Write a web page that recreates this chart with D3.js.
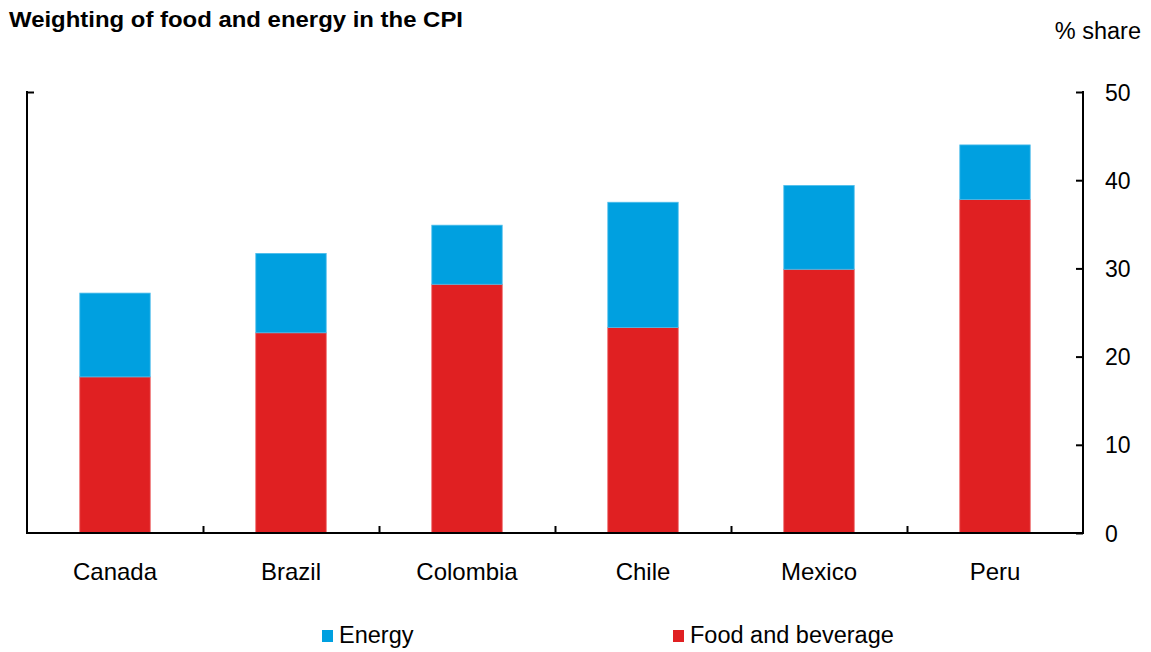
<!DOCTYPE html>
<html>
<head>
<meta charset="utf-8">
<script src="https://cdn.jsdelivr.net/npm/d3@7"></script>
<style>
  html, body { margin: 0; padding: 0; background: #fff; }
  text { font-family: "Liberation Sans", Arial, sans-serif; fill: #000; }
</style>
</head>
<body>
<svg id="chart" width="1151" height="652"></svg>
<script>
const categories = ["Canada", "Brazil", "Colombia", "Chile", "Mexico", "Peru"];
const foodValues = [17.7, 22.7, 28.2, 23.3, 29.9, 37.8];
const energyValues = [9.5, 9.0, 6.7, 14.2, 9.5, 6.2];
const seriesNames = ["Energy", "Food and beverage"];
const yTicks = [0, 10, 20, 30, 40, 50];

(function () {
const colors = { "Energy": "#00A0E0", "Food and beverage": "#E02022" };
const strokes = { "Energy": "#4DBDEB", "Food and beverage": "#EB5A5C" };

const svg = d3.select("#chart");
const pLeft = 27, pRight = 1083, pTop = 92, pBottom = 533;

const x = d3.scaleBand().domain(categories).range([pLeft, pRight])
  .paddingInner(0.6).paddingOuter(0.3);
const y = d3.scaleLinear().domain([0, 50]).range([pBottom, pTop]);

const rows = categories.map((c, i) => ({ cat: c, "Food and beverage": foodValues[i], "Energy": energyValues[i] }));
const stacked = d3.stack().keys(["Food and beverage", "Energy"])(rows);

// bars
svg.append("g").selectAll("g").data(stacked).join("g")
  .attr("fill", d => colors[d.key])
  .attr("stroke", d => strokes[d.key])
  .attr("stroke-width", 0.8)
  .selectAll("rect").data(d => d).join("rect")
  .attr("x", d => x(d.data.cat))
  .attr("width", x.bandwidth())
  .attr("y", d => y(d[1]))
  .attr("height", d => y(d[0]) - y(d[1]));

// right axis
const yAxis = d3.axisRight(y).tickValues(yTicks).tickSize(-7).tickPadding(0).tickFormat(d3.format("d"));
const gy = svg.append("g").attr("transform", `translate(${pRight},0)`).call(yAxis);
gy.select(".domain").remove();
gy.selectAll(".tick line").attr("stroke", "#000").attr("stroke-width", 2);
gy.selectAll(".tick text").attr("x", 22).attr("dy", "0.35em")
  .style("font-size", "23px").style("font-family", "Liberation Sans, Arial, sans-serif").attr("fill", "#000");
svg.append("line").attr("x1", pRight).attr("x2", pRight).attr("y1", y(50) - 1).attr("y2", y(0) + 1)
  .attr("stroke", "#000").attr("stroke-width", 2);

// left axis
const yAxisL = d3.axisLeft(y).tickValues([50]).tickSize(-7).tickFormat("");
const gl = svg.append("g").attr("transform", `translate(${pLeft},0)`).call(yAxisL);
gl.select(".domain").remove();
gl.selectAll(".tick line").attr("stroke", "#000").attr("stroke-width", 2);
svg.append("line").attr("x1", pLeft).attr("x2", pLeft).attr("y1", y(50) - 1).attr("y2", y(0) + 1)
  .attr("stroke", "#000").attr("stroke-width", 2);

// bottom axis
const boundaries = categories.slice(1).map(c => x(c) - x.step() * x.paddingInner() / 2);
const xAxis = d3.axisBottom(d3.scaleLinear().domain([pLeft, pRight]).range([pLeft, pRight]))
  .tickValues(boundaries).tickSize(-7).tickFormat("");
const gx = svg.append("g").attr("transform", `translate(0,${pBottom})`).call(xAxis);
gx.select(".domain").remove();
gx.selectAll(".tick line").attr("stroke", "#000").attr("stroke-width", 2);
svg.append("line").attr("x1", pLeft - 1).attr("x2", pRight + 1).attr("y1", pBottom).attr("y2", pBottom)
  .attr("stroke", "#000").attr("stroke-width", 2);

// category labels
svg.append("g").selectAll("text").data(categories).join("text")
  .attr("x", d => x(d) + x.bandwidth() / 2)
  .attr("y", 579.5)
  .attr("text-anchor", "middle")
  .style("font-size", "24px")
  .text(d => d);

// title
svg.append("text").attr("x", 9).attr("y", 27)
  .style("font-size", "22px").style("font-weight", "bold")
  .attr("textLength", 454).attr("lengthAdjust", "spacingAndGlyphs")
  .text("Weighting of food and energy in the CPI");

// unit label
svg.append("text").attr("x", 1141).attr("y", 38.5)
  .attr("text-anchor", "end").style("font-size", "23.5px")
  .text("% share");

// legend
const legendX = { "Energy": 322, "Food and beverage": 673 };
const lg = svg.append("g").selectAll("g").data(seriesNames).join("g")
  .attr("transform", d => `translate(${legendX[d]},0)`);
lg.append("rect").attr("x", 0).attr("y", 630).attr("width", 11).attr("height", 12)
  .attr("fill", d => colors[d]);
lg.append("text").attr("x", 17).attr("y", 643)
  .style("font-size", "23.5px").text(d => d);
})();
</script>
</body>
</html>
